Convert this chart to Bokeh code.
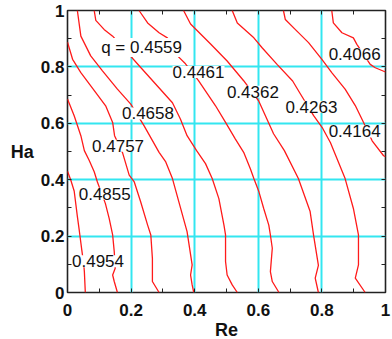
from bokeh.plotting import figure
from bokeh.models import Label, LinearAxis, FixedTicker, Range1d, CustomJSTickFormatter
from bokeh.embed import file_html
from bokeh.resources import INLINE

# ---- contour lines (Re, Ha) ----
q4954_re = [0.0, 0.010, 0.021, 0.031, 0.037, 0.045, 0.051, 0.053, 0.056]
q4954_ha = [0.43, 0.40, 0.36, 0.27, 0.22, 0.15, 0.10, 0.075, 0.0]

q4855_re = [0.0, 0.021, 0.042, 0.053, 0.068, 0.084, 0.094, 0.119, 0.131, 0.142, 0.147, 0.150, 0.142, 0.147, 0.157]
q4855_ha = [0.686, 0.627, 0.556, 0.503, 0.469, 0.428, 0.392, 0.316, 0.263, 0.204, 0.145, 0.086, 0.062, 0.039, 0.0]

q4757_re = [0.0, 0.016, 0.042, 0.089, 0.120, 0.142, 0.148, 0.173, 0.194, 0.210, 0.230, 0.252, 0.262, 0.267, 0.267, 0.288]
q4757_ha = [0.888, 0.827, 0.780, 0.709, 0.662, 0.603, 0.556, 0.496, 0.416, 0.392, 0.322, 0.239, 0.204, 0.121, 0.039, 0.0]

q4658_re = [0.031, 0.042, 0.073, 0.110, 0.157, 0.199, 0.241, 0.288, 0.309, 0.330, 0.376, 0.392, 0.387, 0.392, 0.397]
q4658_ha = [1.0, 0.909, 0.839, 0.786, 0.721, 0.668, 0.591, 0.497, 0.463, 0.404, 0.216, 0.098, 0.062, 0.027, 0.0]

q4559_re = [0.084, 0.089, 0.115, 0.142, 0.231, 0.330, 0.355, 0.376, 0.406, 0.434, 0.455, 0.476, 0.492, 0.497, 0.497, 0.502, 0.518, 0.534]
q4559_ha = [1.0, 0.965, 0.933, 0.909, 0.797, 0.673, 0.615, 0.556, 0.503, 0.457, 0.404, 0.333, 0.239, 0.204, 0.110, 0.062, 0.027, 0.0]

q4461_re = [0.225, 0.252, 0.288, 0.314, 0.346, 0.371, 0.412, 0.465, 0.497, 0.528, 0.554, 0.575, 0.586, 0.602, 0.617, 0.633, 0.638, 0.644, 0.638, 0.644, 0.665]
q4461_ha = [1.0, 0.956, 0.921, 0.903, 0.839, 0.811, 0.751, 0.663, 0.603, 0.544, 0.497, 0.439, 0.404, 0.357, 0.298, 0.239, 0.204, 0.157, 0.074, 0.039, 0.0]

q4362_re = [0.365, 0.387, 0.450, 0.502, 0.554, 0.601, 0.648, 0.682, 0.726, 0.763, 0.774, 0.789, 0.779, 0.789]
q4362_ha = [1.0, 0.952, 0.881, 0.821, 0.751, 0.680, 0.563, 0.503, 0.404, 0.287, 0.202, 0.096, 0.051, 0.0]

q4263_re = [0.518, 0.534, 0.586, 0.612, 0.659, 0.708, 0.733, 0.774, 0.801, 0.827, 0.873, 0.899, 0.915, 0.915, 0.905, 0.936]
q4263_ha = [1.0, 0.956, 0.903, 0.868, 0.809, 0.750, 0.703, 0.627, 0.585, 0.531, 0.404, 0.298, 0.204, 0.098, 0.051, 0.0]

q4164_re = [0.679, 0.685, 0.716, 0.758, 0.800, 0.831, 0.873, 0.905, 0.931, 0.958, 0.994, 1.0]
q4164_ha = [1.0, 0.968, 0.933, 0.886, 0.827, 0.780, 0.721, 0.663, 0.603, 0.538, 0.485, 0.482]

q4066_re = [0.831, 0.836, 0.863, 0.899, 0.910, 0.952, 0.968, 1.0]
q4066_ha = [1.0, 0.956, 0.921, 0.903, 0.880, 0.809, 0.797, 0.782]

# ---- contour labels ----
label_text = ["0.4954", "0.4855", "0.4757", "0.4658", "q = 0.4559", "0.4461",
              "0.4362", "0.4263", "0.4164", "0.4066"]
label_re = [0.096, 0.117, 0.159, 0.253, 0.233, 0.412, 0.583, 0.767, 0.903, 0.903]
label_ha = [0.111, 0.350, 0.520, 0.635, 0.869, 0.782, 0.712, 0.659, 0.571, 0.845]

major_ticks = [0, 0.2, 0.4, 0.6, 0.8, 1]
minor_ticks = [0.1, 0.3, 0.5, 0.7, 0.9]
grid_ticks = [0.2, 0.4, 0.6, 0.8]

FONT = "Liberation Sans"

p = figure(frame_width=318, frame_height=282, output_backend="svg",
           toolbar_location=None, x_range=Range1d(0, 1), y_range=Range1d(0, 1),
           min_border_left=67, min_border_right=7, min_border_top=10,
           min_border_bottom=10, x_axis_label="Re", y_axis_label="Ha")
p.background_fill_color = "white"
p.border_fill_color = "white"
p.outline_line_color = "#222222"
p.outline_line_width = 1.6

for g in (p.xgrid, p.ygrid):
    g.ticker = FixedTicker(ticks=grid_ticks)
    g.grid_line_color = "#33e6f0"
    g.grid_line_width = 2
    g.grid_line_alpha = 1.0

lines = [(q4954_re, q4954_ha), (q4855_re, q4855_ha), (q4757_re, q4757_ha),
         (q4658_re, q4658_ha), (q4559_re, q4559_ha), (q4461_re, q4461_ha),
         (q4362_re, q4362_ha), (q4263_re, q4263_ha), (q4164_re, q4164_ha),
         (q4066_re, q4066_ha)]
p.multi_line(xs=[l[0] for l in lines], ys=[l[1] for l in lines],
             line_color="#ff1a1a", line_width=1.3)

for t, x, y in zip(label_text, label_re, label_ha):
    p.add_layout(Label(x=x, y=y, text=t, text_font=FONT, text_font_size="17px",
                       text_align="center", text_baseline="middle",
                       text_color="#111111", background_fill_color="white"))

def style_axis(ax, labels=True):
    ax.ticker = FixedTicker(ticks=major_ticks, minor_ticks=minor_ticks)
    ax.axis_line_color = None
    ax.major_tick_in = 4
    ax.major_tick_out = 0
    ax.minor_tick_in = 4
    ax.minor_tick_out = 0
    ax.major_tick_line_color = "#222222"
    ax.minor_tick_line_color = "#222222"
    if labels:
        ax.major_label_text_font = FONT
        ax.major_label_text_font_size = "17px"
        ax.major_label_text_font_style = "bold"
        ax.major_label_text_color = "#111111"
    else:
        ax.formatter = CustomJSTickFormatter(code="return '';")
        ax.major_label_standoff = 0

style_axis(p.xaxis[0])
style_axis(p.yaxis[0])
p.xaxis[0].major_label_standoff = 11
p.yaxis[0].major_label_standoff = 3
for ax in (p.xaxis[0], p.yaxis[0]):
    ax.axis_label_text_font = FONT
    ax.axis_label_text_font_size = "18px"
    ax.axis_label_text_font_style = "bold"
    ax.axis_label_text_color = "#111111"
p.xaxis[0].axis_label_standoff = 1
p.yaxis[0].axis_label_standoff = 4
p.yaxis[0].axis_label_orientation = "horizontal"
p.yaxis[0].axis_label_text_baseline = "bottom"

top_ax = LinearAxis()
right_ax = LinearAxis()
style_axis(top_ax, labels=False)
style_axis(right_ax, labels=False)
p.add_layout(top_ax, "above")
p.add_layout(right_ax, "right")

open("out.html", "w").write(file_html(p, INLINE))
